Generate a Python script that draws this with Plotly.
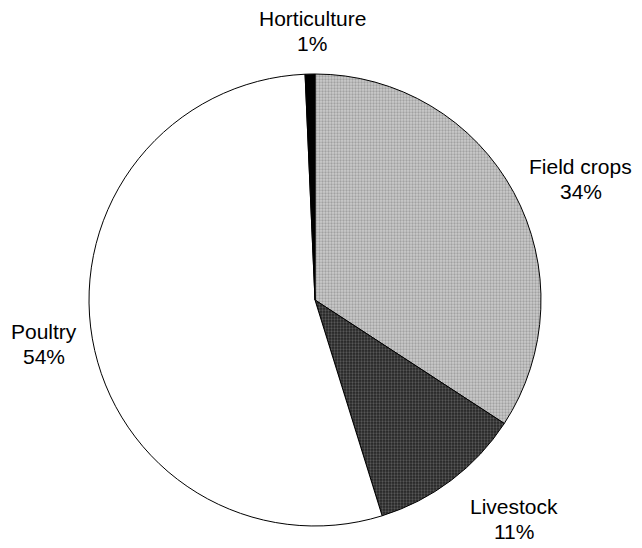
import math
import plotly.graph_objects as go

# Data (clockwise from 12 o'clock), shares in percent
labels = ["Field crops", "Livestock", "Poultry", "Horticulture"]
values = [34.2, 11.0, 54.1, 0.7]

# Styles
fill_bg = ["#cbcbcb", "#242424", "#ffffff", "#000000"]
fill_fg = ["#777777", "#8a8a8a", "#ffffff", "#000000"]
pattern_shapes = [".", ".", "", ""]
# label placement: radial factor and angular nudge (deg) relative to slice mid-angle
label_k = [1.292, 1.309, 1.213, 1.19]
label_dtheta = [3.9, -5.2, 0.7, 0.7]
LINE_PITCH = 25
FONT = dict(family="Arial, Liberation Sans, sans-serif", size=21, color="#000000")

W, H = 642, 548
CX, CY, R = 315, 300, 226
dom_x = [(CX - R) / W, (CX + R) / W]
dom_y = [1 - (CY + R) / H, 1 - (CY - R) / H]

fig = go.Figure(go.Pie(
    labels=labels,
    values=values,
    sort=False,
    direction="clockwise",
    rotation=0,
    textinfo="none",
    hoverinfo="label+percent",
    showlegend=False,
    domain=dict(x=dom_x, y=dom_y),
    marker=dict(
        colors=fill_bg,
        line=dict(color="#000000", width=1),
        pattern=dict(shape=pattern_shapes, fgcolor=fill_fg, bgcolor=fill_bg,
                     size=3, solidity=0.45, fillmode="overlay"),
    ),
))

total = sum(values)
cum = 0
annotations = []
for i, (lab, v) in enumerate(zip(labels, values)):
    mid = (cum + v / 2) / total * 360 + label_dtheta[i]
    cum += v
    rad = math.radians(mid)
    px = CX + R * label_k[i] * math.sin(rad)
    py = CY - R * label_k[i] * math.cos(rad)
    pct = max(1, round(v / total * 100))
    for text, off in ((lab, -LINE_PITCH / 2), (f"{pct}%", LINE_PITCH / 2)):
        annotations.append(dict(
            x=px / W, y=1 - (py + off) / H, xref="paper", yref="paper",
            text=text, showarrow=False, align="center",
            xanchor="center", yanchor="middle", font=FONT,
        ))

fig.update_layout(
    width=W, height=H,
    margin=dict(l=0, r=0, t=0, b=0),
    paper_bgcolor="#ffffff",
    plot_bgcolor="#ffffff",
    annotations=annotations,
)

fig.write_html("out.html", config={"displayModeBar": False},
               post_script="document.body.style.margin='0';")
